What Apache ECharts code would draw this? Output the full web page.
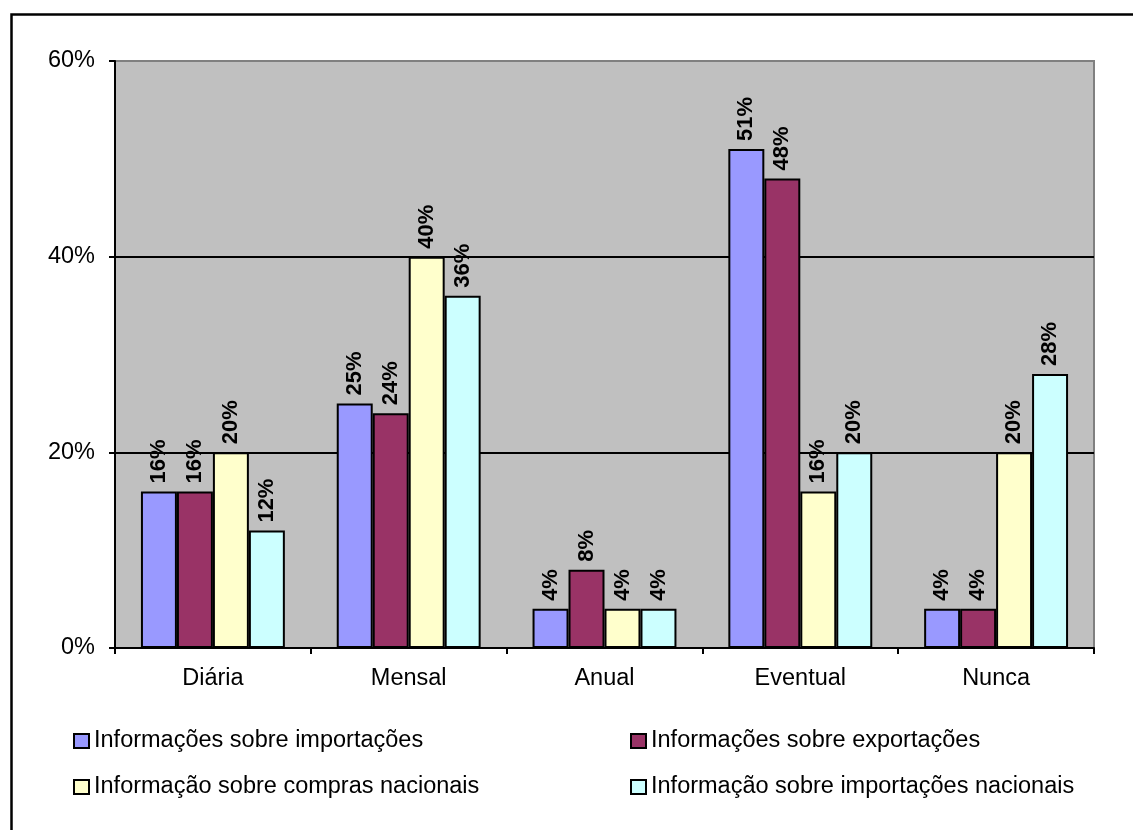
<!DOCTYPE html>
<html>
<head>
<meta charset="utf-8">
<script src="https://cdn.jsdelivr.net/npm/echarts@6/dist/echarts.min.js"></script>
<style>
  html, body { margin: 0; padding: 0; background: #fff; }
  #chart { width: 1133px; height: 830px; }
</style>
</head>
<body>
<div id="chart"></div>
<script>
// Frequency categories
const categories = ['Diária', 'Mensal', 'Anual', 'Eventual', 'Nunca'];

// Series names
const seriesNames = [
  'Informações sobre importações',
  'Informações sobre exportações',
  'Informação sobre compras nacionais',
  'Informação sobre importações nacionais'
];

// Percent values per series
const importacoes = [16, 25, 4, 51, 4];
const exportacoes = [16, 24, 8, 48, 4];
const comprasNacionais = [20, 40, 4, 16, 20];
const importacoesNacionais = [12, 36, 4, 20, 28];

// Y axis ticks (percent)
const yTicks = [0, 20, 40, 60];

const seriesValues = [importacoes, exportacoes, comprasNacionais, importacoesNacionais];
const colors = ['#9999FF', '#993366', '#FFFFCC', '#CCFFFF'];

const FONT = 'Liberation Sans, Arial, sans-serif';

const chart = echarts.init(document.getElementById('chart'));

// Two-by-two legend layout
const legendPos = [
  { left: 73, top: 729 },
  { left: 630, top: 729 },
  { left: 73, top: 775 },
  { left: 630, top: 775 }
];

chart.setOption({
  animation: false,
  backgroundColor: '#ffffff',
  graphic: [{
    type: 'rect',
    left: 9, top: 12,
    shape: { width: 1160, height: 860 },
    style: { fill: 'none', stroke: '#000', lineWidth: 2.5 },
    silent: true,
    z: -1
  }],
  legend: seriesNames.map((name, i) => ({
    data: [name],
    left: legendPos[i].left,
    top: legendPos[i].top,
    icon: 'rect',
    itemWidth: 15,
    itemHeight: 14,
    itemStyle: { borderColor: '#000', borderWidth: 2 },
    padding: 0,
    textStyle: { fontFamily: FONT, fontSize: 23.5, color: '#000', padding: [0, 0, 0, 0] },
    selectedMode: false
  })),
  grid: {
    left: 115, right: 39, top: 61, bottom: 182,
    show: true,
    backgroundColor: '#C0C0C0',
    borderColor: '#808080',
    borderWidth: 2
  },
  xAxis: {
    type: 'category',
    data: categories,
    axisLine: { lineStyle: { color: '#000', width: 2 } },
    axisTick: { show: true, length: 6, lineStyle: { color: '#000', width: 2 } },
    axisLabel: { fontFamily: FONT, fontSize: 23.5, color: '#000', margin: 19 }
  },
  yAxis: {
    type: 'value',
    min: yTicks[0],
    max: yTicks[yTicks.length - 1],
    interval: yTicks[1] - yTicks[0],
    axisLine: { show: true, lineStyle: { color: '#000', width: 2 } },
    axisTick: { show: true, length: 6, lineStyle: { color: '#000', width: 2 } },
    axisLabel: { fontFamily: FONT, fontSize: 23.5, color: '#000', margin: 20, formatter: '{value}%' },
    splitLine: { show: true, lineStyle: { color: ['#000', '#000', '#000', '#808080'], width: 2 } }
  },
  series: seriesValues.map((vals, i) => ({
    name: seriesNames[i],
    type: 'bar',
    data: vals,
    barGap: '0%',
    barCategoryGap: '26.5%',
    itemStyle: { color: colors[i], borderColor: '#000', borderWidth: 2 },
    label: {
      show: true,
      position: 'top',
      rotate: 90,
      align: 'left',
      verticalAlign: 'middle',
      distance: 8,
      formatter: '{c}%',
      fontFamily: FONT,
      fontSize: 22,
      fontWeight: 'bold',
      color: '#000'
    }
  }))
});
</script>
</body>
</html>
